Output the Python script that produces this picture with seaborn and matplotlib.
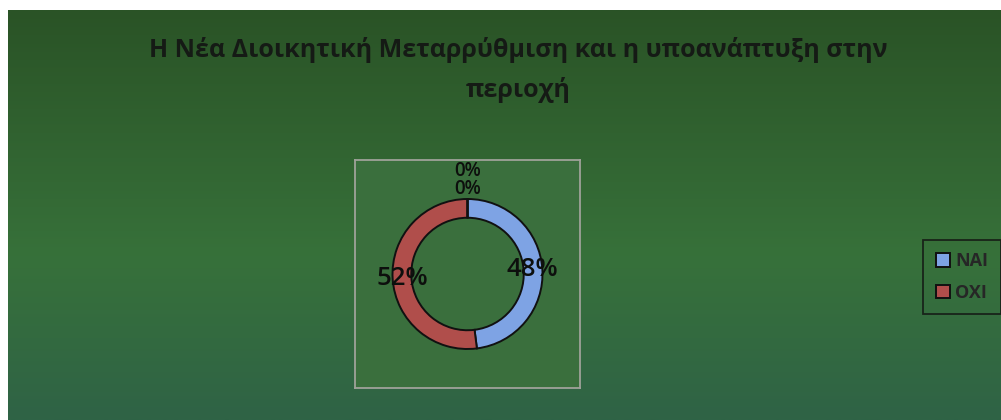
import numpy as np
import seaborn as sns
import matplotlib.pyplot as plt
from matplotlib.colors import LinearSegmentedColormap

# Data
categories = ['NAI', 'OXI', '', '']
values = [48, 52, 0, 0]
legend_labels = ['NAI', 'OXI']
title = 'Η Νέα Διοικητική Μεταρρύθμιση και η υποανάπτυξη στην\nπεριοχή'

sns.set_theme(style='white')
plt.rcParams['font.family'] = ['Open Sans', 'DejaVu Sans']

colors = ['#7ea3e4', '#b04e4b', '#7ea3e4', '#b04e4b']

fig = plt.figure(figsize=(10.01, 4.2), dpi=100)
fig.patch.set_facecolor('white')

# green gradient background of the chart area
bg = fig.add_axes([8 / 1001, 0, 993 / 1001, 410 / 420])
grad_cmap = LinearSegmentedColormap.from_list(
    'bg', [(0, '#2a5326'), (0.6, '#37713a'), (1, '#2f6346')])
grad = np.linspace(0, 1, 256).reshape(-1, 1)
bg.imshow(grad, aspect='auto', cmap=grad_cmap, extent=[0, 1, 1, 0])
bg.set_axis_off()

# title
fig.text(518 / 1001, 1 - 70 / 420, title, ha='center', va='center',
         fontsize=18, fontweight='bold', color='#151a15', linespacing=1.7)

# plot area
ax = fig.add_axes([355 / 1001, 32 / 420, 225 / 1001, 228 / 420])

wedges, texts, autotexts = ax.pie(
    values, colors=colors, startangle=90, counterclock=False,
    radius=1.0, autopct='%1.0f%%', pctdistance=0.87,
    wedgeprops=dict(width=0.25, edgecolor='#111111', linewidth=1.4),
    textprops=dict(fontsize=18.5, color='#0d0f0d', fontweight='semibold'))

# zero-value labels stacked above the ring
zero_y = [1.37, 1.13]
k = 0
for v, t in zip(values, autotexts):
    if v == 0:
        t.set_position((0, zero_y[k]))
        t.set_fontsize(13.5)
        k += 1

ax.set_frame_on(True)
ax.set_facecolor('#3a6f3d')
for sp in ax.spines.values():
    sp.set_visible(True)
    sp.set_color('#9fa29a')
    sp.set_linewidth(1.3)
ax.set_xlim(-1.5, 1.5)
ax.set_ylim(-1.52, 1.52)
ax.set_aspect('equal')
ax.set_xticks([])
ax.set_yticks([])

# legend
leg = fig.legend(wedges[:2], legend_labels, loc='center left',
                 bbox_to_anchor=(923 / 1001, 1 - 277 / 420),
                 frameon=True, handlelength=0.8, handleheight=0.8,
                 handletextpad=0.3, borderpad=0.7, labelspacing=0.75,
                 borderaxespad=0,
                 prop=dict(weight='bold', size=13))
leg.get_frame().set_facecolor('none')
leg.get_frame().set_edgecolor('#111111')
leg.get_frame().set_linewidth(1.3)
leg.get_frame().set_boxstyle('square', pad=0)

fig.savefig('out.png', dpi=100)
